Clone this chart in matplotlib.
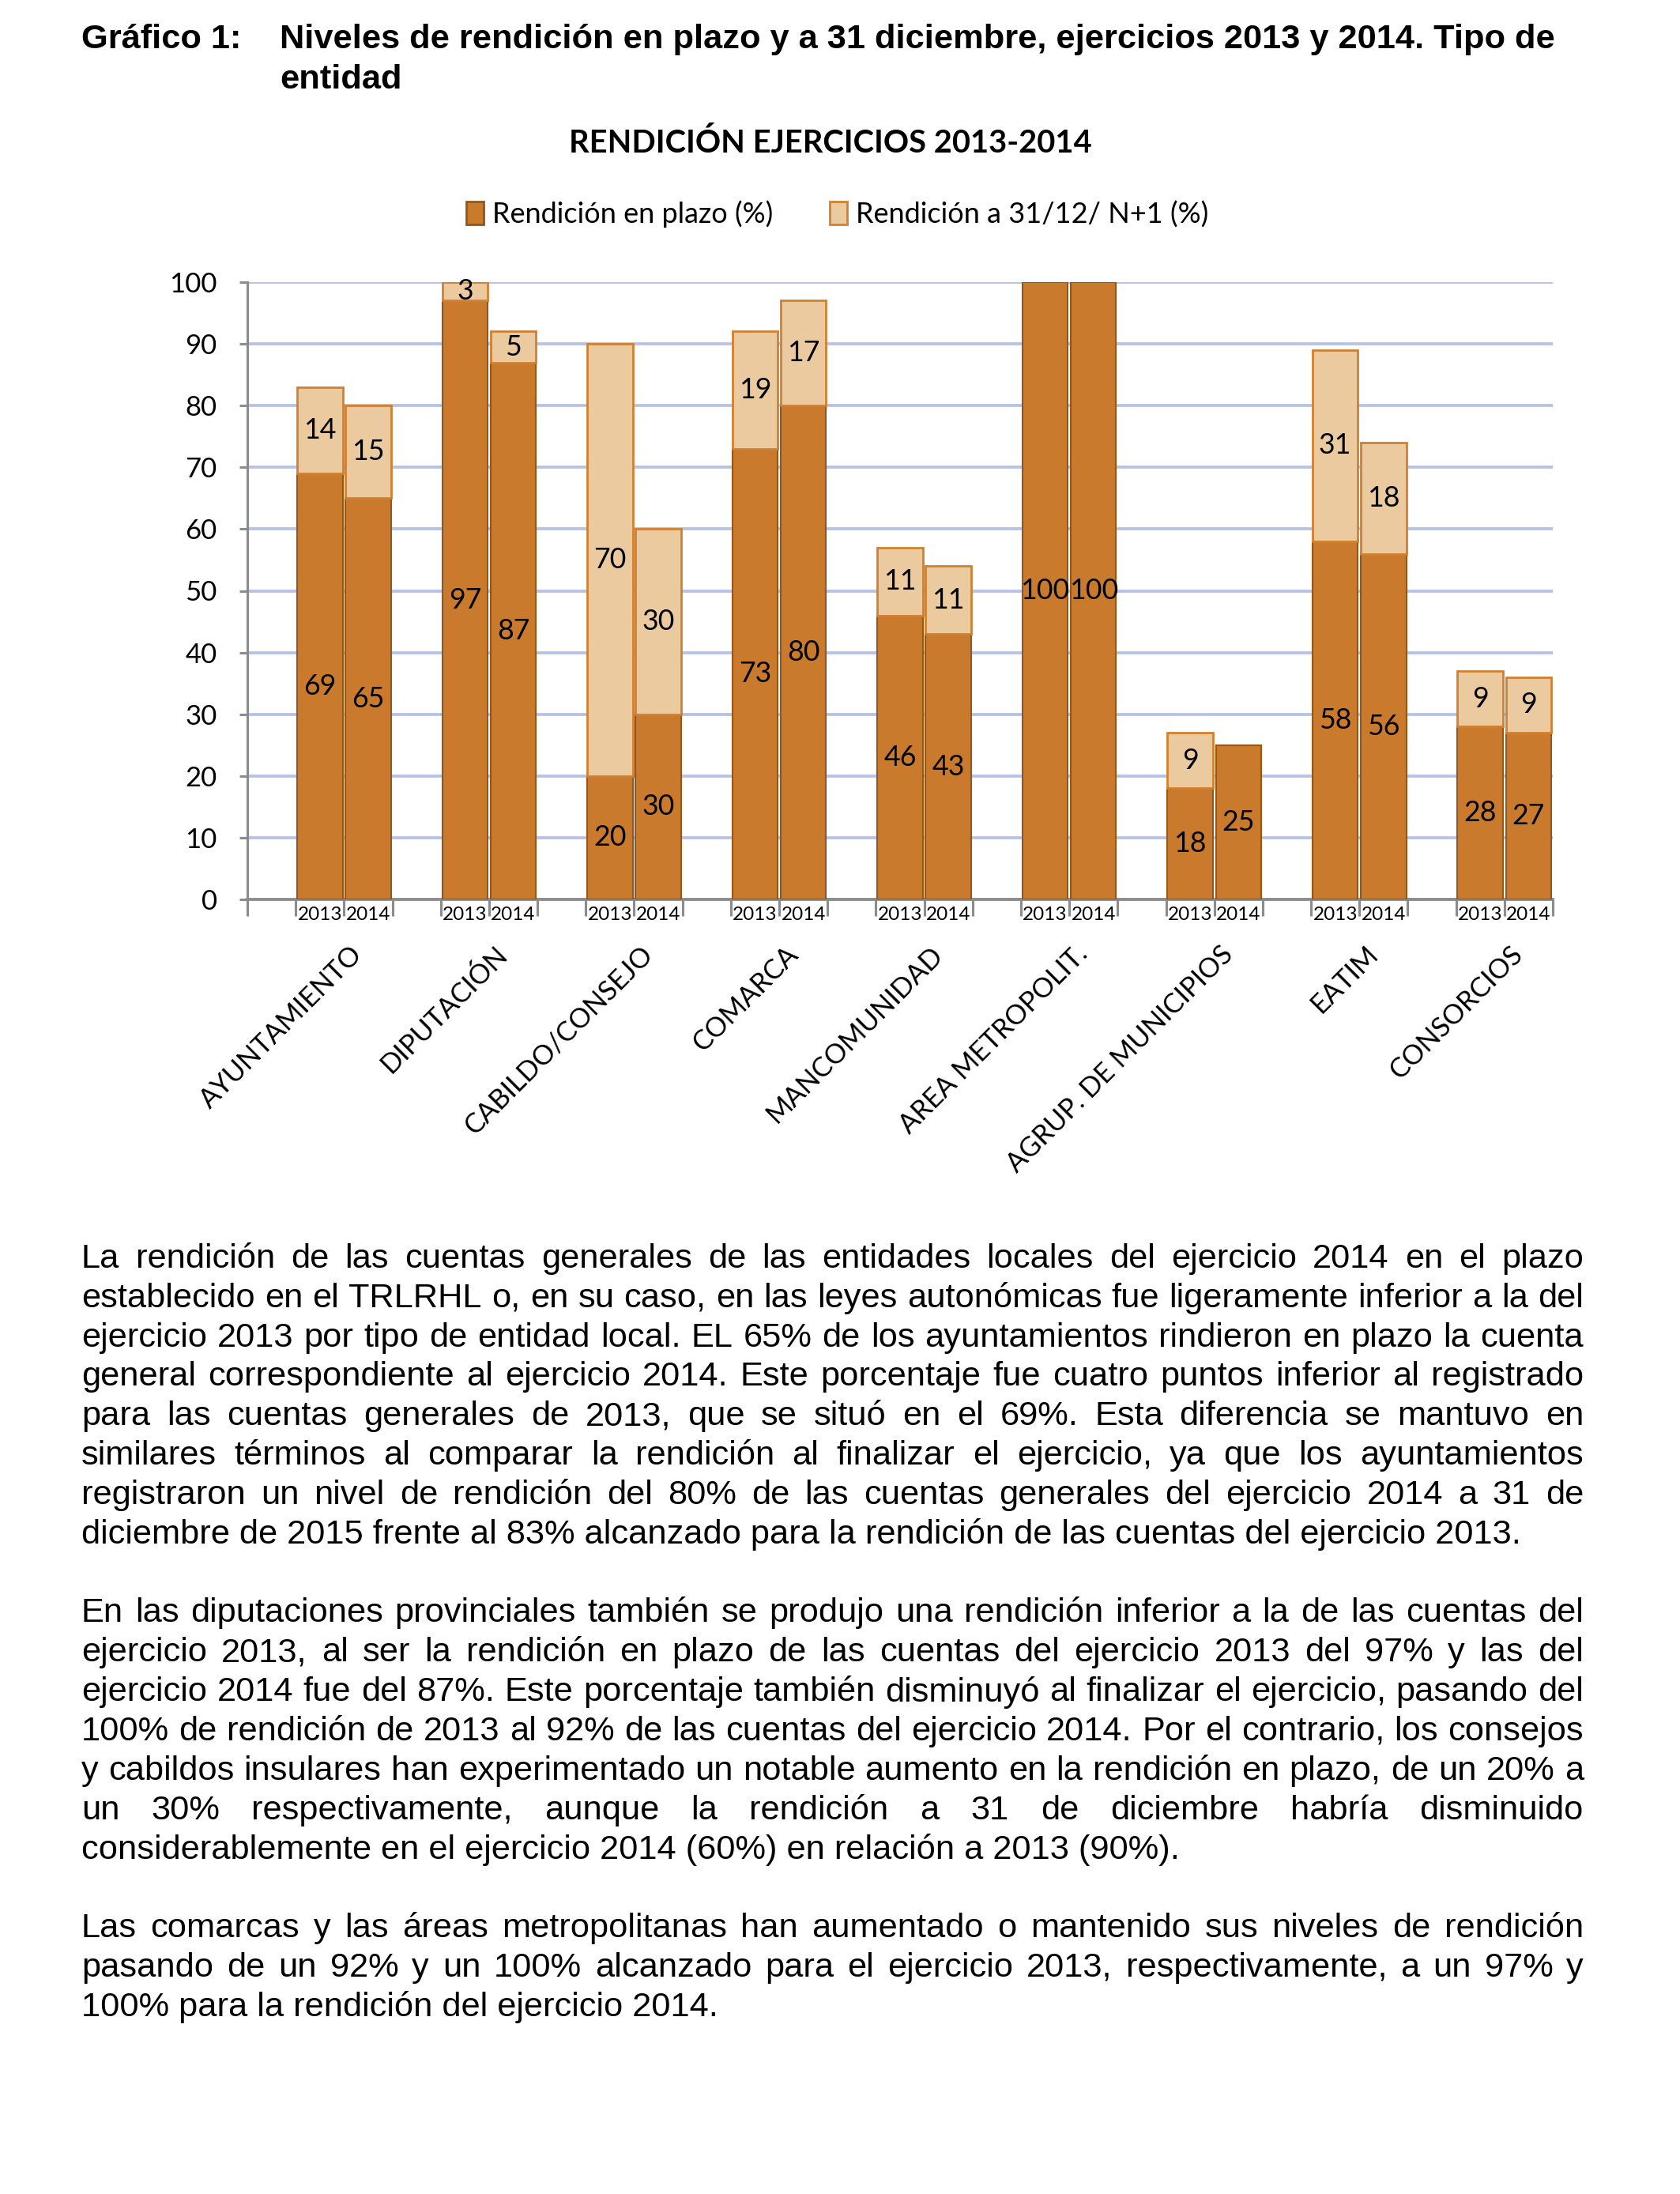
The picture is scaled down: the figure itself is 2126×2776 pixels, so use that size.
import matplotlib
matplotlib.use('Agg')
import matplotlib.pyplot as plt
from matplotlib.patches import Patch
import numpy as np

# datos del gráfico
categorias = ['AYUNTAMIENTO', 'DIPUTACIÓN', 'CABILDO/CONSEJO', 'COMARCA', 'MANCOMUNIDAD',
              'AREA METROPOLIT.', 'AGRUP. DE MUNICIPIOS', 'EATIM', 'CONSORCIOS']
anios = ['2013', '2014']
plazo_2013 = [69, 97, 20, 73, 46, 100, 18, 58, 28]
plazo_2014 = [65, 87, 30, 80, 43, 100, 25, 56, 27]
extra_2013 = [14, 3, 70, 19, 11, 0, 9, 31, 9]
extra_2014 = [15, 5, 30, 17, 11, 0, 0, 18, 9]
yticks = list(range(0, 101, 10))

titulo_num = 'Gráfico 1:'
titulo_lineas = ['Niveles de rendición en plazo y a 31 diciembre, ejercicios 2013 y 2014. Tipo de',
                 'entidad']
titulo_grafico = 'RENDICIÓN EJERCICIOS 2013-2014'
leyenda = ['Rendición en plazo (%)', 'Rendición a 31/12/ N+1 (%)']

parrafo_1 = [
    'La rendición de las cuentas generales de las entidades locales del ejercicio 2014 en el plazo',
    'establecido en el TRLRHL o, en su caso, en las leyes autonómicas fue ligeramente inferior a la del',
    'ejercicio 2013 por tipo de entidad local. EL 65% de los ayuntamientos rindieron en plazo la cuenta',
    'general correspondiente al ejercicio 2014. Este porcentaje fue cuatro puntos inferior al registrado',
    'para las cuentas generales de 2013, que se situó en el 69%. Esta diferencia se mantuvo en',
    'similares términos al comparar la rendición al finalizar el ejercicio, ya que los ayuntamientos',
    'registraron un nivel de rendición del 80% de las cuentas generales del ejercicio 2014 a 31 de',
    'diciembre de 2015 frente al 83% alcanzado para la rendición de las cuentas del ejercicio 2013.',
]
parrafo_2 = [
    'En las diputaciones provinciales también se produjo una rendición inferior a la de las cuentas del',
    'ejercicio 2013, al ser la rendición en plazo de las cuentas del ejercicio 2013 del 97% y las del',
    'ejercicio 2014 fue del 87%. Este porcentaje también disminuyó al finalizar el ejercicio, pasando del',
    '100% de rendición de 2013 al 92% de las cuentas del ejercicio 2014. Por el contrario, los consejos',
    'y cabildos insulares han experimentado un notable aumento en la rendición en plazo, de un 20% a',
    'un 30% respectivamente, aunque la rendición a 31 de diciembre habría disminuido',
    'considerablemente en el ejercicio 2014 (60%) en relación a 2013 (90%).',
]
parrafo_3 = [
    'Las comarcas y las áreas metropolitanas han aumentado o mantenido sus niveles de rendición',
    'pasando de un 92% y un 100% alcanzado para el ejercicio 2013, respectivamente, a un 97% y',
    '100% para la rendición del ejercicio 2014.',
]

# estilos
OSCURO = '#C97A2C'
OSCURO_BORDE = '#93561C'
CLARO = '#EACA9E'
CLARO_BORDE = '#D2802F'
REJILLA = '#B7C3E6'
EJE = '#8C8C8C'
FUENTE_TXT = ['Liberation Sans', 'DejaVu Sans']
FUENTE_GRAF = ['Lato', 'DejaVu Sans']

W, H = 2126, 2776
DPI = 250

fig = plt.figure(figsize=(W / DPI, H / DPI), dpi=DPI)
fig.patch.set_facecolor('white')
renderer = fig.canvas.get_renderer()


def fy(ypx):
    return 1 - ypx / H


def ancho(s, **kw):
    t = fig.text(0, 0, s, **kw)
    w = t.get_window_extent(renderer).width
    t.remove()
    return w


def linea(texto, ypx, x0, x1, justificar, **kw):
    if not justificar:
        fig.text(x0 / W, fy(ypx), texto, ha='left', va='center', **kw)
        return
    palabras = texto.split()
    anchos = [ancho(p, **kw) for p in palabras]
    hueco = (x1 - x0 - sum(anchos)) / (len(palabras) - 1)
    x = x0
    for p, w in zip(palabras, anchos):
        fig.text(x / W, fy(ypx), p, ha='left', va='center', **kw)
        x += w + hueco


# encabezado
kw_tit = dict(family=FUENTE_TXT, fontsize=12.5, fontweight='bold', color='black')
fig.text(103 / W, fy(50), titulo_num, ha='left', va='center', **kw_tit)
for k, t in enumerate(titulo_lineas):
    fig.text(354 / W, fy(50 + 50.5 * k), t, ha='left', va='center', **kw_tit)

fig.text(1051 / W, fy(181), titulo_grafico, ha='center', va='center',
         family=FUENTE_GRAF, fontsize=11.5, fontweight='bold')

# gráfico
ax = fig.add_axes([313 / W, fy(1138), (1965 - 313) / W, (1138 - 357) / H])
x = np.arange(len(categorias)) * 3
series = [(x + 1.5, plazo_2013, extra_2013), (x + 2.5, plazo_2014, extra_2014)]
ancho_barra = 0.94
for xs, plazo, extra in series:
    ax.bar(xs, plazo, width=ancho_barra, color=OSCURO, edgecolor=OSCURO_BORDE, linewidth=0.6, zorder=3)
    idx = [i for i, e in enumerate(extra) if e > 0]
    ax.bar(xs[idx], [extra[i] for i in idx], bottom=[plazo[i] for i in idx], width=ancho_barra,
           color=CLARO, edgecolor=CLARO_BORDE, linewidth=0.8, zorder=3)
    for i in range(len(categorias)):
        ax.text(xs[i], plazo[i] / 2, str(plazo[i]), ha='center', va='center',
                family=FUENTE_GRAF, fontsize=10.3, zorder=4)
        if extra[i] > 0:
            ax.text(xs[i], plazo[i] + extra[i] / 2, str(extra[i]), ha='center', va='center',
                    family=FUENTE_GRAF, fontsize=10.3, zorder=4)

ax.set_xlim(0, 3 * len(categorias))
ax.set_ylim(0, 100)
ax.set_yticks(yticks)
ax.set_yticklabels([str(v) for v in yticks], family=FUENTE_GRAF, fontsize=10)
ax.yaxis.grid(True, color=REJILLA, linewidth=1.1, zorder=0)
ax.set_axisbelow(True)
ax.set_xticks(np.arange(3 * len(categorias) + 1))
ax.set_xticklabels([])
ax.tick_params(axis='y', length=3, width=0.9, color=EJE, pad=8)
ax.tick_params(axis='x', length=6, width=0.9, color=EJE)
for s in ['top', 'right']:
    ax.spines[s].set_visible(False)
ax.spines['left'].set_color(EJE)
ax.spines['left'].set_linewidth(0.9)
ax.spines['bottom'].set_color(EJE)
ax.spines['bottom'].set_linewidth(1.1)

# etiquetas de años y categorías
for xs, anio in zip([x + 1.5, x + 2.5], anios):
    for xi in xs:
        ax.annotate(anio, (xi, 0), xycoords=('data', 'axes fraction'), xytext=(0, -5.6),
                    textcoords='offset points', ha='center', va='center',
                    family=FUENTE_GRAF, fontsize=7)
for xi, cat in zip(x + 2.3, categorias):
    ax.annotate(cat, (xi, 0), xycoords=('data', 'axes fraction'), xytext=(0, -18.5),
                textcoords='offset points', ha='right', va='center', rotation=45,
                rotation_mode='anchor', family=FUENTE_GRAF, fontsize=9.9)

# leyenda
handles = [Patch(facecolor=OSCURO, edgecolor=OSCURO_BORDE, linewidth=0.8),
           Patch(facecolor=CLARO, edgecolor=CLARO_BORDE, linewidth=0.8)]
fig.legend(handles, leyenda, loc='center', bbox_to_anchor=(0.4985, fy(271)), ncol=2,
           frameon=False, handlelength=0.6, handleheight=0.85, handletextpad=0.3,
           columnspacing=2.0, prop={'family': FUENTE_GRAF, 'size': 10.4})

# texto del documento
kw_txt = dict(family=FUENTE_TXT, fontsize=12.5, color='black')
y0, paso = 1593, 49.83
for inicio, parrafo in [(0, parrafo_1), (9, parrafo_2), (17, parrafo_3)]:
    for k, t in enumerate(parrafo):
        ultima = k == len(parrafo) - 1
        linea(t, y0 + paso * (inicio + k), 103, 2004, not ultima, **kw_txt)

fig.savefig('out.png', dpi=DPI, facecolor='white')
